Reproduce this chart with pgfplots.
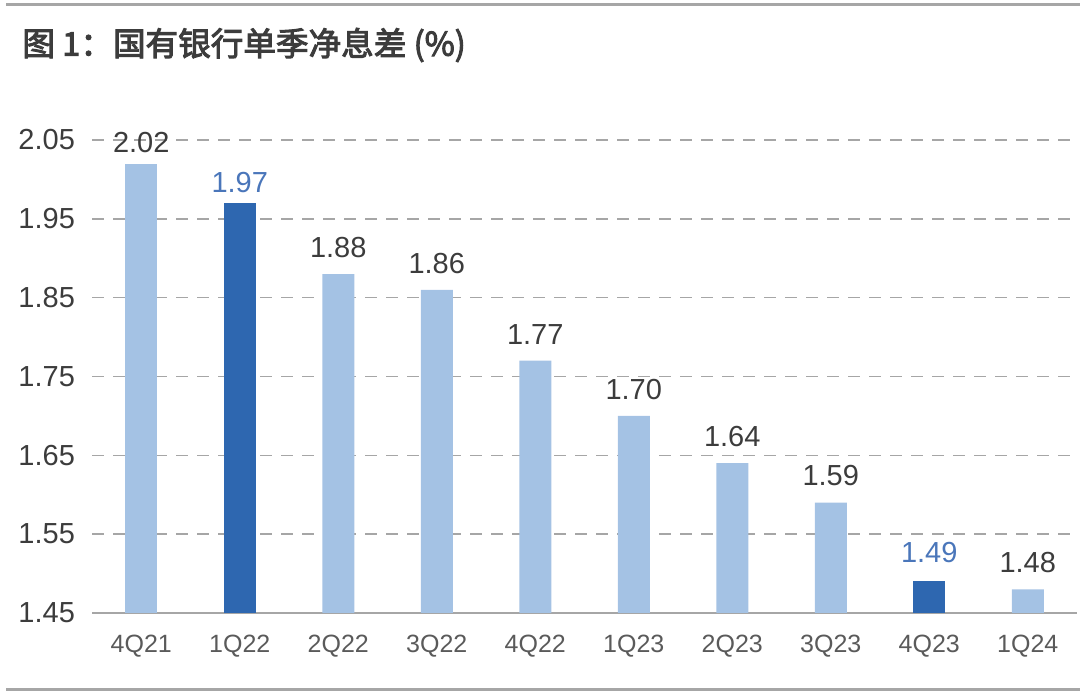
\documentclass[border=0pt]{standalone}
\usepackage{pgfplots}
\pgfplotsset{compat=1.18}
\usepackage{fontspec}
\setmainfont{Liberation Sans}
\newfontfamily\cjk[FakeBold=3]{Noto Sans CJK SC}
\definecolor{lightbar}{HTML}{A4C2E4}
\definecolor{darkbar}{HTML}{2E67B0}
\definecolor{txt}{HTML}{3C3C3C}
\definecolor{cat}{HTML}{5A5A5A}
\definecolor{rule}{HTML}{A6A6A6}
\definecolor{hl}{HTML}{4A76BA}

\begin{document}
\begin{tikzpicture}[x=1pt,y=1pt]
\useasboundingbox (0,0) rectangle (540,347);
\draw[rule, line width=1.5pt] (3,344.5) -- (540,344.5);
\draw[rule, line width=1.5pt] (3,2) -- (540,2);
\node[anchor=west, text=txt, font=\cjk\fontsize{16.3}{19}\selectfont, inner sep=0pt]
  at (11,324.5) {图 1：国有银行单季净息差 (\%)};

\begin{axis}[
    at={(46pt,40.5pt)}, anchor=south west,
    scale only axis,
    width=492.5pt, height=236.5pt,
    xmin=-0.5, xmax=9.5,
    ymin=1.45, ymax=2.05,
    ytick={1.45,1.55,1.65,1.75,1.85,1.95,2.05},
    yticklabel style={/pgf/number format/fixed, /pgf/number format/fixed zerofill,
      /pgf/number format/precision=2,
      font=\fontsize{14.5}{17}\selectfont, text=txt, xshift=-5pt},
    xtick={0,...,9},
    xticklabels={4Q21,1Q22,2Q22,3Q22,4Q22,1Q23,2Q23,3Q23,4Q23,1Q24},
    xticklabel style={font=\fontsize{12.5}{15}\selectfont, text=cat, yshift=-3pt},
    /pgf/number format/assume math mode=true,
    axis x line*=bottom,
    axis y line*=left,
    y axis line style={draw=none},
    x axis line style={rule, line width=0.75pt},
    tick style={draw=none},
    ymajorgrids,
    grid style={rule, line width=0.75pt, dash pattern=on 6pt off 4.5pt},
    ybar, bar width=16pt, bar shift=0pt,
    nodes near coords={\pgfmathprintnumber[fixed,fixed zerofill,precision=2]{\pgfplotspointmeta}},
    nodes near coords style={font=\fontsize{14.5}{17}\selectfont, anchor=south, inner sep=0pt, yshift=8pt},
    clip=false,
]
% light bars
\addplot[fill=lightbar, draw=none, nodes near coords style={text=txt, yshift=-3pt}]
  coordinates {(0,2.02)};
\addplot[fill=lightbar, draw=none, nodes near coords style={text=txt}]
  coordinates {(2,1.88) (3,1.86) (4,1.77) (5,1.70) (6,1.64) (7,1.59) (9,1.48)};
% highlighted bars
\addplot[fill=darkbar, draw=none, nodes near coords style={text=hl, yshift=-3pt}]
  coordinates {(1,1.97)};
\addplot[fill=darkbar, draw=none, nodes near coords style={text=hl, yshift=1pt}]
  coordinates {(8,1.49)};
\end{axis}
\end{tikzpicture}
\end{document}
